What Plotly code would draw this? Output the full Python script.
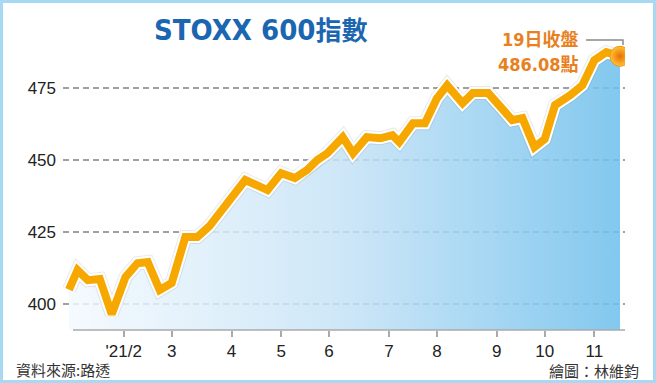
import plotly.graph_objects as go

dates = ["2021-01-01", "2021-01-06", "2021-01-12", "2021-01-19", "2021-01-26", "2021-02-03",
         "2021-02-10", "2021-02-16", "2021-02-23", "2021-03-02", "2021-03-10", "2021-03-17",
         "2021-03-24", "2021-04-14", "2021-04-27", "2021-05-05", "2021-05-13", "2021-05-20",
         "2021-05-26", "2021-06-01", "2021-06-10", "2021-06-16", "2021-06-24", "2021-07-02",
         "2021-07-09", "2021-07-13", "2021-07-21", "2021-07-28", "2021-08-04", "2021-08-10",
         "2021-08-19", "2021-08-25", "2021-09-03", "2021-09-12", "2021-09-17", "2021-09-23",
         "2021-09-30", "2021-10-06", "2021-10-12", "2021-10-21", "2021-10-28", "2021-11-04",
         "2021-11-11", "2021-11-19"]
values = [405.0, 411.8, 408.3, 408.7, 396.5, 409.4, 414.2, 414.6, 404.9, 407.3, 423.3, 423.3,
          427.0, 443.1, 439.6, 445.5, 443.8, 446.5, 450.0, 452.4, 458.0, 452.4, 458.0, 457.6,
          458.7, 456.3, 462.8, 462.8, 471.5, 476.0, 469.8, 473.3, 473.3, 467.4, 463.9, 464.6,
          454.5, 457.3, 469.1, 472.6, 476.0, 484.7, 487.5, 486.08]

x_tickvals = ["2021-02-02", "2021-03-02", "2021-04-06", "2021-05-05", "2021-06-02",
              "2021-07-07", "2021-08-04", "2021-09-08", "2021-10-06", "2021-11-04"]
x_ticktext = ["'21/2", "3", "4", "5", "6", "7", "8", "9", "10", "11"]
y_tickvals = [400, 425, 450, 475]

title_text = "STOXX 600"
title_cjk = "指數"
note_line1 = "19日收盤"
note_line2 = "486.08點"
source_text = "資料來源:路透"
credit_text = "繪圖：林維鈞"

ORANGE = "#f6a800"
CJK = "Noto Sans CJK TC"
NARROW = "Liberation Sans Narrow, DejaVu Sans Condensed, Liberation Sans, " + CJK

fig = go.Figure()

# gradient fill under the line
fig.add_trace(go.Scatter(
    x=dates, y=values, mode="lines", line=dict(width=0, color="rgba(0,0,0,0)"),
    fill="tozeroy",
    fillgradient=dict(type="horizontal",
                      colorscale=[[0, "rgba(243,249,254,0.82)"], [0.5, "rgba(196,226,246,0.84)"],
                                  [1, "rgba(112,192,236,0.87)"]]),
    hoverinfo="skip", showlegend=False))
# soft shadow, white outline, orange line
fig.add_trace(go.Scatter(x=dates, y=values, mode="lines",
                         line=dict(width=14, color="rgba(90,90,90,0.13)"),
                         hoverinfo="skip", showlegend=False))
fig.add_trace(go.Scatter(x=dates, y=values, mode="lines",
                         line=dict(width=12, color="white"),
                         hoverinfo="skip", showlegend=False))
fig.add_trace(go.Scatter(x=dates, y=values, mode="lines",
                         line=dict(width=8, color=ORANGE),
                         showlegend=False))
# end point dot
fig.add_trace(go.Scatter(x=dates[-1:], y=values[-1:], mode="markers",
                         marker=dict(size=20, color="#ffc23a",
                                     gradient=dict(type="radial", color="#e97000"),
                                     line=dict(width=1, color="#f29a10")),
                         showlegend=False))

fig.update_layout(
    width=656, height=383,
    margin=dict(l=63, r=31, t=45, b=53),
    paper_bgcolor="white", plot_bgcolor="rgba(0,0,0,0)",
    font=dict(family="Liberation Sans, " + CJK, color="#222"),
    xaxis=dict(type="date", range=["2020-12-28 12:00", "2021-11-21 22:00"],
               tickvals=x_tickvals, ticktext=x_ticktext,
               showgrid=False, showline=False, zeroline=False,
               ticks="outside", ticklen=6, tickwidth=1.5, tickcolor="#aaa",
               tickfont=dict(size=17, color="#222")),
    yaxis=dict(range=[391, 490], tickvals=y_tickvals,
               showgrid=True, gridcolor="#a0a0a0", gridwidth=1.5, griddash="6px,4px",
               zeroline=False, showline=False, ticks="", ticklabelstandoff=6,
               tickfont=dict(size=17, color="#222")),
    annotations=[
        dict(xref="paper", yref="paper", x=(261 - 63) / 562, y=(330 - 30) / 285,
             text=title_text + "<span style='font-size:26px'>" + title_cjk + "</span>",
             showarrow=False, xanchor="center", yanchor="middle",
             font=dict(family=NARROW, size=29, color="#1a66b0", weight="bold")),
        dict(xref="paper", yref="paper", x=(581 - 63) / 562, y=(330 - 40) / 285,
             text=note_line1, showarrow=False, xanchor="right", yanchor="middle",
             font=dict(family=NARROW, size=18, color="#e8801e", weight="bold")),
        dict(xref="paper", yref="paper", x=(581 - 63) / 562, y=(330 - 64) / 285,
             text=note_line2, showarrow=False, xanchor="right", yanchor="middle",
             font=dict(family=NARROW, size=18, color="#e8801e", weight="bold")),
        dict(xref="paper", yref="paper", x=(14 - 63) / 562, y=(330 - 369) / 285,
             text=source_text, showarrow=False, xanchor="left", yanchor="middle",
             font=dict(family=CJK, size=15, color="#333")),
        dict(xref="paper", yref="paper", x=(641 - 63) / 562, y=(330 - 370) / 285,
             text=credit_text, showarrow=False, xanchor="right", yanchor="middle",
             font=dict(family=CJK, size=15, color="#333")),
    ],
    shapes=[
        # x axis baseline
        dict(type="line", xref="paper", yref="paper", x0=(73 - 63) / 562, x1=1, y0=0, y1=0,
             line=dict(color="#aaa", width=1.5)),
        # connector for the close label
        dict(type="path", xref="paper", yref="paper",
             path="M {:.4f},{:.4f} L {:.4f},{:.4f} L {:.4f},{:.4f}".format(
                 (586 - 63) / 562, (330 - 40) / 285, (623 - 63) / 562, (330 - 40) / 285,
                 (623 - 63) / 562, (330 - 45) / 285),
             line=dict(color="#8a8a8a", width=1.5)),
        # outer frame
        dict(type="rect", xref="paper", yref="paper",
             x0=(1.5 - 63) / 562, x1=(654.5 - 63) / 562,
             y0=(330 - 381.5) / 285, y1=(330 - 1.5) / 285,
             line=dict(color="#a9d9f2", width=3), layer="above"),
    ],
)

fig.write_html("out.html")
